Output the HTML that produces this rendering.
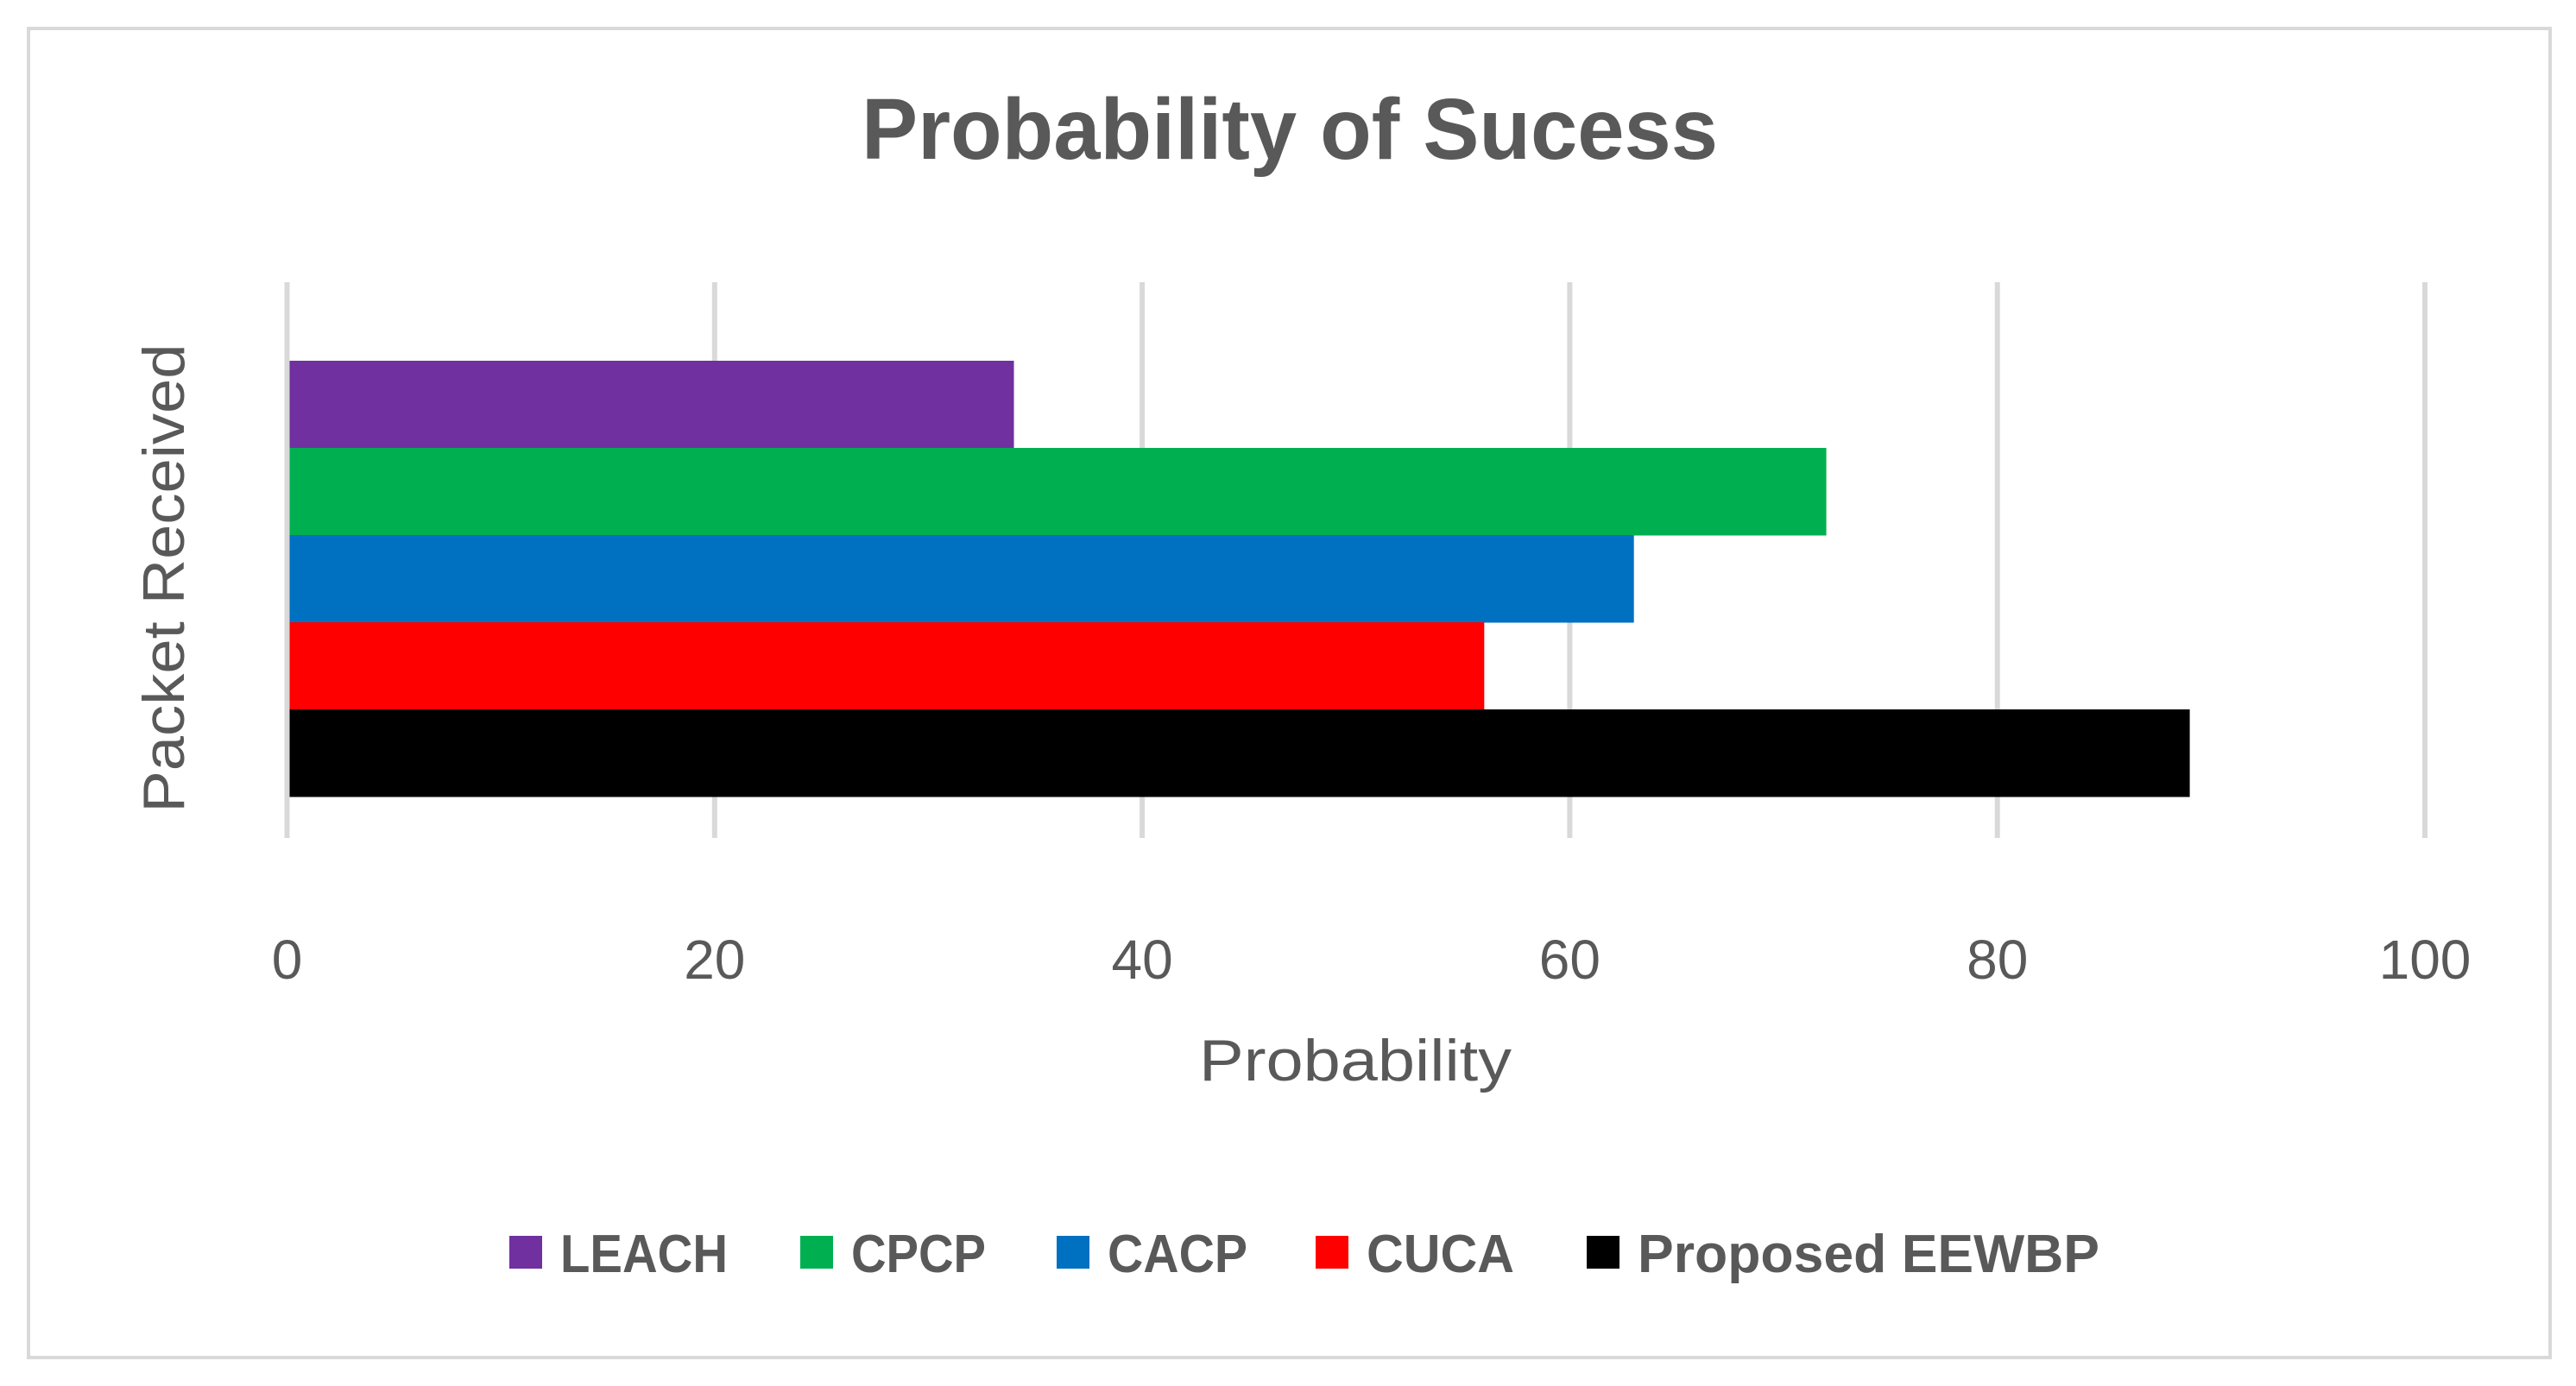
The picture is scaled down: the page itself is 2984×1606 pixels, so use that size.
<!DOCTYPE html>
<html><head><meta charset="utf-8"><style>
html,body{margin:0;padding:0;background:#fff;}
svg{display:block;}
text{font-family:"Liberation Sans",sans-serif;fill:#595959;}
</style></head><body>
<svg id="chart" width="2984" height="1606" viewBox="0 0 2984 1606">
<rect x="33" y="33" width="2921" height="1540" fill="#fff" stroke="#d9d9d9" stroke-width="4"/>
<text x="1494" y="184" text-anchor="middle" font-size="100" font-weight="bold" textLength="992" lengthAdjust="spacingAndGlyphs">Probability of Sucess</text>
<g id="grid"></g>
<g id="bars"></g>
<g id="ticks"></g>
<text x="1570" y="1252" text-anchor="middle" font-size="68" textLength="362" lengthAdjust="spacingAndGlyphs">Probability</text>
<text transform="translate(213,670) rotate(-90)" text-anchor="middle" font-size="68" textLength="543" lengthAdjust="spacingAndGlyphs">Packet Received</text>
<g id="legend"></g>
</svg>
<script>
const series = ["LEACH","CPCP","CACP","CUCA","Proposed EEWBP"];
const values = [34,72,63,56,89];
const colors = ["#7030a0","#00b050","#0070c0","#ff0000","#000000"];
const ticks = [0,20,40,60,80,100];
const NS="http://www.w3.org/2000/svg";
const x0=332.5, x1=2809, gTop=327, gBot=971, barTop=418, barH=101;
const xs=v=>x0+(x1-x0)*v/100;
const grid=document.getElementById('grid'), bars=document.getElementById('bars'), tk=document.getElementById('ticks'), lg=document.getElementById('legend');
ticks.forEach(t=>{
  const l=document.createElementNS(NS,'line');
  l.setAttribute('x1',xs(t));l.setAttribute('x2',xs(t));l.setAttribute('y1',gTop);l.setAttribute('y2',gBot);
  l.setAttribute('stroke','#d9d9d9');l.setAttribute('stroke-width','6');
  
  
  grid.appendChild(l);
  const tx=document.createElementNS(NS,'text');
  tx.setAttribute('x',xs(t));tx.setAttribute('y',1134);tx.setAttribute('text-anchor','middle');tx.setAttribute('font-size','64');
  tx.textContent=t;
  
  
  tk.appendChild(tx);
});
values.forEach((v,i)=>{
  const r=document.createElementNS(NS,'rect');
  r.setAttribute('x',x0+3);r.setAttribute('y',barTop+i*barH);r.setAttribute('width',xs(v)-x0-3);r.setAttribute('height',barH+0.5);
  r.setAttribute('fill',colors[i]);
  
  
  bars.appendChild(r);
});
const lgX=[590,927,1224,1524,1838], lgW=[194,156,162,171,535];
series.forEach((s,i)=>{
  const g=document.createElementNS(NS,'g');
  
  
  const r=document.createElementNS(NS,'rect');
  r.setAttribute('x',lgX[i]);r.setAttribute('y',1432);r.setAttribute('width',38);r.setAttribute('height',38);r.setAttribute('fill',colors[i]);
  
  
  const t=document.createElementNS(NS,'text');
  t.setAttribute('x',lgX[i]+59);t.setAttribute('y',1474);t.setAttribute('font-size','62');t.setAttribute('font-weight','bold');
  t.setAttribute('textLength',lgW[i]);t.setAttribute('lengthAdjust','spacingAndGlyphs');
  t.textContent=s;
  
  
  g.appendChild(r);g.appendChild(t);lg.appendChild(g);
});
</script>
</body></html>
